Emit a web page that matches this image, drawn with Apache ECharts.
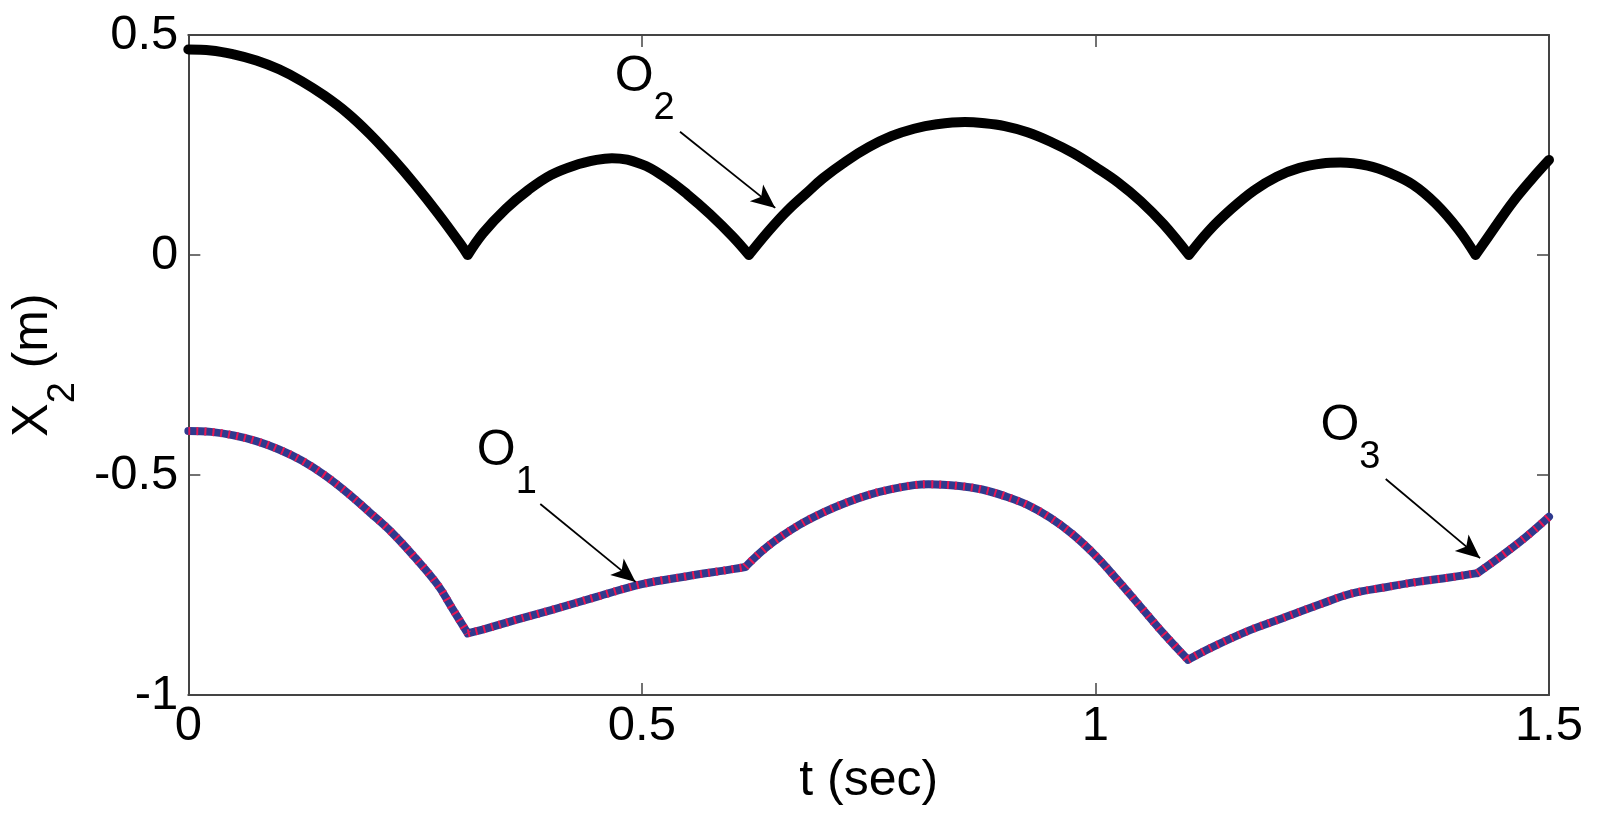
<!DOCTYPE html>
<html><head><meta charset="utf-8">
<script src="https://cdn.jsdelivr.net/npm/echarts@6/dist/echarts.min.js"></script>
<style>html,body{margin:0;padding:0;background:#fff}#c{width:1598px;height:820px}</style>
</head><body><div id="c"></div>
<script>
// Top curve (O2)
const tO2 = [0,0.025,0.05,0.075,0.1,0.125,0.15,0.175,0.2,0.225,0.25,0.275,0.3,0.308,
  0.325,0.35,0.375,0.4,0.425,0.45,0.467,0.5,0.525,0.55,0.575,0.6,0.618,
  0.64,0.66,0.68,0.7,0.725,0.75,0.775,0.8,0.825,0.856,0.875,0.9,0.925,0.95,0.975,1.0,1.025,1.05,1.075,1.103,
  1.125,1.15,1.175,1.2,1.225,1.25,1.27,1.3,1.325,1.35,1.375,1.4,1.419,
  1.44,1.46,1.48,1.5];
const xO2 = [0.467,0.465,0.456,0.442,0.422,0.395,0.362,0.323,0.275,0.220,0.160,0.095,0.025,0.0,
  0.05,0.105,0.148,0.182,0.203,0.216,0.22,0.206,0.177,0.138,0.093,0.042,0.0,
  0.055,0.1,0.138,0.175,0.213,0.245,0.27,0.287,0.297,0.302,0.3,0.293,0.279,0.258,0.232,0.2,0.165,0.122,0.07,0.0,
  0.055,0.105,0.147,0.178,0.198,0.208,0.21,0.203,0.186,0.16,0.117,0.058,0.0,
  0.062,0.12,0.17,0.216];
const kinksO2 = [0.308, 0.618, 1.103, 1.419];
// Bottom curve (O1 / O3)
const tO1 = [0,0.025,0.05,0.075,0.1,0.125,0.15,0.175,0.2,0.225,0.25,0.275,0.29,0.308,
  0.33,0.36,0.4,0.45,0.5,0.55,0.6,0.614,
  0.64,0.673,0.7,0.725,0.75,0.775,0.8,0.816,0.85,0.875,0.9,0.925,0.95,0.975,1.0,1.025,1.05,1.075,1.102,
  1.13,1.171,1.2,1.25,1.281,1.32,1.355,1.39,1.421,
  1.45,1.475,1.5];
const xO1 = [-0.4,-0.402,-0.41,-0.423,-0.442,-0.467,-0.5,-0.54,-0.585,-0.632,-0.688,-0.75,-0.8,-0.86,
  -0.848,-0.83,-0.807,-0.777,-0.748,-0.73,-0.714,-0.709,
  -0.66,-0.614,-0.585,-0.563,-0.545,-0.532,-0.523,-0.521,-0.525,-0.533,-0.548,-0.568,-0.597,-0.635,-0.683,-0.74,-0.8,-0.86,-0.92,
  -0.89,-0.852,-0.83,-0.792,-0.77,-0.755,-0.743,-0.733,-0.723,
  -0.68,-0.64,-0.595];
const kinksO1 = [0.308, 0.614, 1.102, 1.421];
// Tick values
const xTicks = [0, 0.5, 1, 1.5];
const yTicks = [-1, -0.5, 0, 0.5];
// Annotations: label anchor (t, x) and arrow start/end in data units
const annNames = ['1', '2', '3'];
const annLabelPos = [[0.318, -0.475], [0.470, 0.376], [1.248, -0.418]];
const annArrowFrom = [[0.388, -0.566], [0.542, 0.280], [1.320, -0.509]];
const annArrowTo = [[0.493, -0.743], [0.647, 0.107], [1.424, -0.689]];

// Build line data; break at kinks (duplicating the kink point) so each smooth arc keeps its sharp corner
function build(ts, vs, kinks) {
  const out = [];
  ts.forEach((t, i) => {
    out.push([t, vs[i]]);
    if (kinks.indexOf(t) >= 0) { out.push([t, null]); out.push([t, vs[i]]); }
  });
  return out;
}
const FONT = '"Liberation Sans", Arial, sans-serif';
const axisLine = {show: true, onZero: false, lineStyle: {color: '#444', width: 2}};
const axisTick = {show: true, inside: true, length: 12, lineStyle: {color: '#444', width: 1.5}};
const subRich = {
  a: {fontSize: 50, fontFamily: FONT, color: '#000', padding: [0, 0, 25, 0], verticalAlign: 'bottom'},
  s: {fontSize: 38, fontFamily: FONT, color: '#000', verticalAlign: 'bottom'}
};

const chart = echarts.init(document.getElementById('c'));
chart.setOption({
  animation: false,
  backgroundColor: '#fff',
  grid: {left: 185, right: 49, top: 35, bottom: 125},
  xAxis: [{
    type: 'value', min: xTicks[0], max: xTicks[xTicks.length - 1], interval: 0.5,
    position: 'bottom',
    axisLine, axisTick, splitLine: {show: false},
    axisLabel: {color: '#000', fontSize: 49, fontFamily: FONT, margin: 7},
    name: 't (sec)', nameLocation: 'middle', nameGap: 50,
    nameTextStyle: {color: '#000', fontSize: 50, fontFamily: FONT}
  }, {
    type: 'value', min: xTicks[0], max: xTicks[xTicks.length - 1], interval: 0.5,
    position: 'top', axisLine, axisTick, axisLabel: {show: false}, splitLine: {show: false}
  }],
  yAxis: [{
    type: 'value', min: yTicks[0], max: yTicks[yTicks.length - 1], interval: 0.5,
    position: 'left',
    axisLine, axisTick, splitLine: {show: false},
    axisLabel: {color: '#000', fontSize: 49, fontFamily: FONT, margin: 10},
    name: '{a|X}{s|2}{a| (m)}', nameLocation: 'middle', nameGap: 105, nameRotate: 90,
    nameTextStyle: {color: '#000', fontFamily: FONT, rich: subRich}
  }, {
    type: 'value', min: yTicks[0], max: yTicks[yTicks.length - 1], interval: 0.5,
    position: 'right', axisLine, axisTick, axisLabel: {show: false}, splitLine: {show: false}
  }],
  series: [{
    type: 'line', name: 'O2', data: build(tO2, xO2, kinksO2), showSymbol: false, symbol: 'none',
    smooth: 0.4, connectNulls: false,
    lineStyle: {color: '#000', width: 10, join: 'round', cap: 'round'}, z: 3
  }, {
    type: 'line', name: 'O1', data: build(tO1, xO1, kinksO1), showSymbol: false, symbol: 'none',
    smooth: 0.4, connectNulls: false,
    lineStyle: {color: '#2f3a8e', width: 8, join: 'round', cap: 'round'}, z: 3
  }, {
    type: 'line', name: 'O1 overlay', data: build(tO1, xO1, kinksO1), showSymbol: false, symbol: 'none',
    smooth: 0.4, connectNulls: false,
    lineStyle: {color: 'rgba(240,20,80,0.95)', width: 8, type: [2, 6]}, z: 4
  }, {
    type: 'scatter', name: 'labels', symbolSize: 0, silent: true, z: 5,
    itemStyle: {color: '#000', opacity: 1},
    data: annNames.map((n, i) => ({value: annLabelPos[i], name: n})),
    label: {
      show: true, position: 'right', distance: 0, color: '#000', opacity: 1,
      textBorderWidth: 0, textBorderColor: 'transparent',
      formatter: p => '{a|O}{s|' + p.name + '}',
      rich: subRich
    },
    markLine: {
      silent: true, animation: false,
      symbol: ['none', 'arrow'], symbolSize: [16, 24],
      label: {show: false},
      lineStyle: {color: '#000', width: 1.8, type: 'solid', opacity: 1},
      data: annArrowFrom.map((f, i) => [{coord: f}, {coord: annArrowTo[i]}])
    }
  }]
});
</script>
</body></html>
